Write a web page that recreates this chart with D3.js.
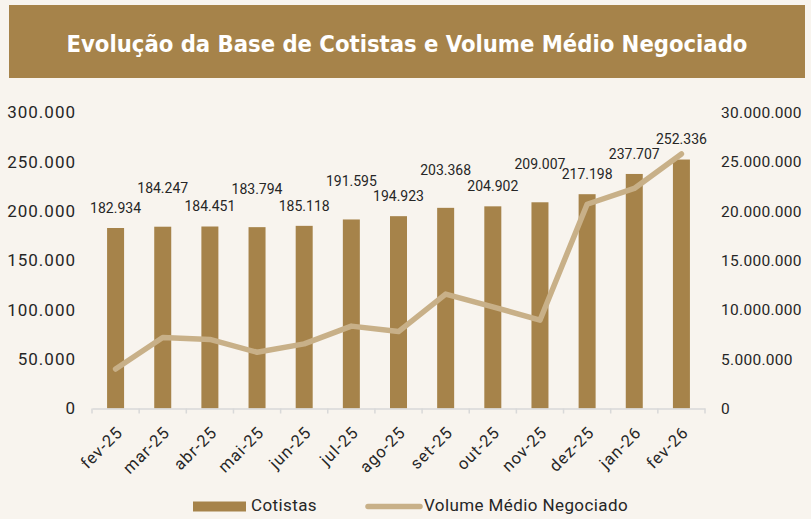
<!DOCTYPE html>
<html>
<head>
<meta charset="utf-8">
<script src="https://cdn.jsdelivr.net/npm/d3@7"></script>
<style>
  html, body { margin: 0; padding: 0; background: #f8f4ee; }
  svg { display: block; }
  text { fill: #262626; font-family: Roboto, "Noto Sans", sans-serif; }
</style>
</head>
<body>
<div id="chart"></div>
<script>
// Evolução da Base de Cotistas e Volume Médio Negociado

const months = ["fev-25", "mar-25", "abr-25", "mai-25", "jun-25", "jul-25", "ago-25",
  "set-25", "out-25", "nov-25", "dez-25", "jan-26", "fev-26"];
const cotistas = [182934, 184247, 184451, 183794, 185118, 191595, 194923,
  203368, 204902, 209007, 217198, 237707, 252336];
// volume (right axis)
const volume = [4.0e6, 7.2e6, 7.0e6, 5.7e6, 6.55e6, 8.35e6, 7.8e6,
  11.6e6, 10.3e6, 8.95e6, 20.7e6, 22.3e6, 25.8e6];
const leftTicks = [0, 50000, 100000, 150000, 200000, 250000, 300000];
const rightTicks = [0, 5e6, 10e6, 15e6, 20e6, 25e6, 30e6];

const W = 811, H = 519;
const gold = "#a6834a";
const sand = "#c8b088";

const fmt = d3.formatLocale({ decimal: ",", thousands: ".", grouping: [3], currency: ["R$", ""] }).format(",.0f");

const svg = d3.select("#chart").append("svg")
  .attr("width", W).attr("height", H);

svg.append("rect").attr("width", W).attr("height", H).attr("fill", "#f8f4ee");

// title band
svg.append("rect")
  .attr("x", 9).attr("y", 5).attr("width", 796).attr("height", 73)
  .attr("fill", gold);

const title = svg.append("text")
  .attr("x", 407).attr("y", 45)
  .attr("text-anchor", "middle")
  .attr("dominant-baseline", "middle")
  .style("font-family", "'Liberation Sans Narrow', 'DejaVu Sans Condensed', sans-serif")
  .style("font-weight", "bold")
  .style("font-size", "26px")
  .style("fill", "#ffffff")
  .text("Evolução da Base de Cotistas e Volume Médio Negociado");
// fit to the original width
const tw = title.node().getComputedTextLength();
title.style("font-size", (26 * 681 / tw).toFixed(2) + "px");

// plot area
const plot = { left: 92, right: 705, top: 112.5, bottom: 408.5 };

const x = d3.scaleBand().domain(months).range([plot.left, plot.right]).paddingInner(0).paddingOuter(0);
const yL = d3.scaleLinear().domain([0, 300000]).range([plot.bottom, plot.top]);
const yR = d3.scaleLinear().domain([0, 30000000]).range([plot.bottom, plot.top]);
const barW = 17;

// bars
svg.append("g").selectAll("rect")
  .data(cotistas)
  .join("rect")
  .attr("x", (d, i) => x(months[i]) + x.bandwidth() / 2 - barW / 2)
  .attr("y", d => yL(d))
  .attr("width", barW)
  .attr("height", d => plot.bottom - yL(d))
  .attr("fill", gold);

// x axis
const xAxis = svg.append("g")
  .attr("transform", `translate(0,${plot.bottom})`)
  .call(d3.axisBottom(x).tickSize(0).tickPadding(0));
xAxis.select(".domain").attr("stroke", "#d9d9d9").attr("stroke-width", 1.5);
// ticks between categories
xAxis.selectAll(".sep")
  .data(d3.range(months.length + 1))
  .join("line")
  .attr("class", "sep")
  .attr("x1", i => plot.left + i * x.step())
  .attr("x2", i => plot.left + i * x.step())
  .attr("y1", 0).attr("y2", 5)
  .attr("stroke", "#d9d9d9").attr("stroke-width", 1.5);
xAxis.selectAll(".tick text")
  .style("font-size", "16.5px")
  .style("letter-spacing", "1px")
  .style("fill", "#262626")
  .attr("text-anchor", "end")
  .attr("dominant-baseline", "middle")
  .attr("x", 0).attr("y", 0).attr("dy", null)
  .attr("transform", "translate(5,22) rotate(-45)");

// left axis
const lAxis = svg.append("g")
  .attr("transform", `translate(${plot.left - 16},0)`)
  .call(d3.axisLeft(yL).tickValues(leftTicks).tickFormat(fmt).tickSize(0).tickPadding(0));
lAxis.select(".domain").remove();
lAxis.selectAll("text").style("font-size", "17px").style("letter-spacing", "1px").style("fill", "#262626");

// right axis
const rAxis = svg.append("g")
  .attr("transform", `translate(${plot.right + 16},0)`)
  .call(d3.axisRight(yR).tickValues(rightTicks).tickFormat(fmt).tickSize(0).tickPadding(0));
rAxis.select(".domain").remove();
rAxis.selectAll("text").style("font-size", "15.5px").style("letter-spacing", "0.3px").style("fill", "#262626");

// volume line
const line = d3.line()
  .x((d, i) => x(months[i]) + x.bandwidth() / 2)
  .y(d => yR(d));
svg.append("path")
  .datum(volume)
  .attr("d", line)
  .attr("fill", "none")
  .attr("stroke", sand)
  .attr("stroke-width", 5.5)
  .attr("stroke-linecap", "round")
  .attr("stroke-linejoin", "round");

// bar labels, alternately lifted so they do not collide
svg.append("g").selectAll("text")
  .data(cotistas)
  .join("text")
  .attr("x", (d, i) => x(months[i]) + x.bandwidth() / 2)
  .attr("y", (d, i) => yL(d) - ((i % 2 === 1 && i < 11) ? 37 : 19))
  .attr("text-anchor", "middle")
  .attr("dominant-baseline", "middle")
  .style("font-size", "14px")
  .text(d => fmt(d));

// legend
const lg = svg.append("g");
lg.append("rect").attr("x", 193).attr("y", 501.5).attr("width", 53).attr("height", 10).attr("fill", gold);
lg.append("text").attr("x", 251).attr("y", 507).attr("dominant-baseline", "middle")
  .style("font-size", "17px").style("letter-spacing", "0.4px").text("Cotistas");
lg.append("line").attr("x1", 368).attr("x2", 420).attr("y1", 506.5).attr("y2", 506.5)
  .attr("stroke", sand).attr("stroke-width", 5.5).attr("stroke-linecap", "round");
lg.append("text").attr("x", 424).attr("y", 507).attr("dominant-baseline", "middle")
  .style("font-size", "17px").style("letter-spacing", "0.4px").text("Volume Médio Negociado");
</script>
</body>
</html>
